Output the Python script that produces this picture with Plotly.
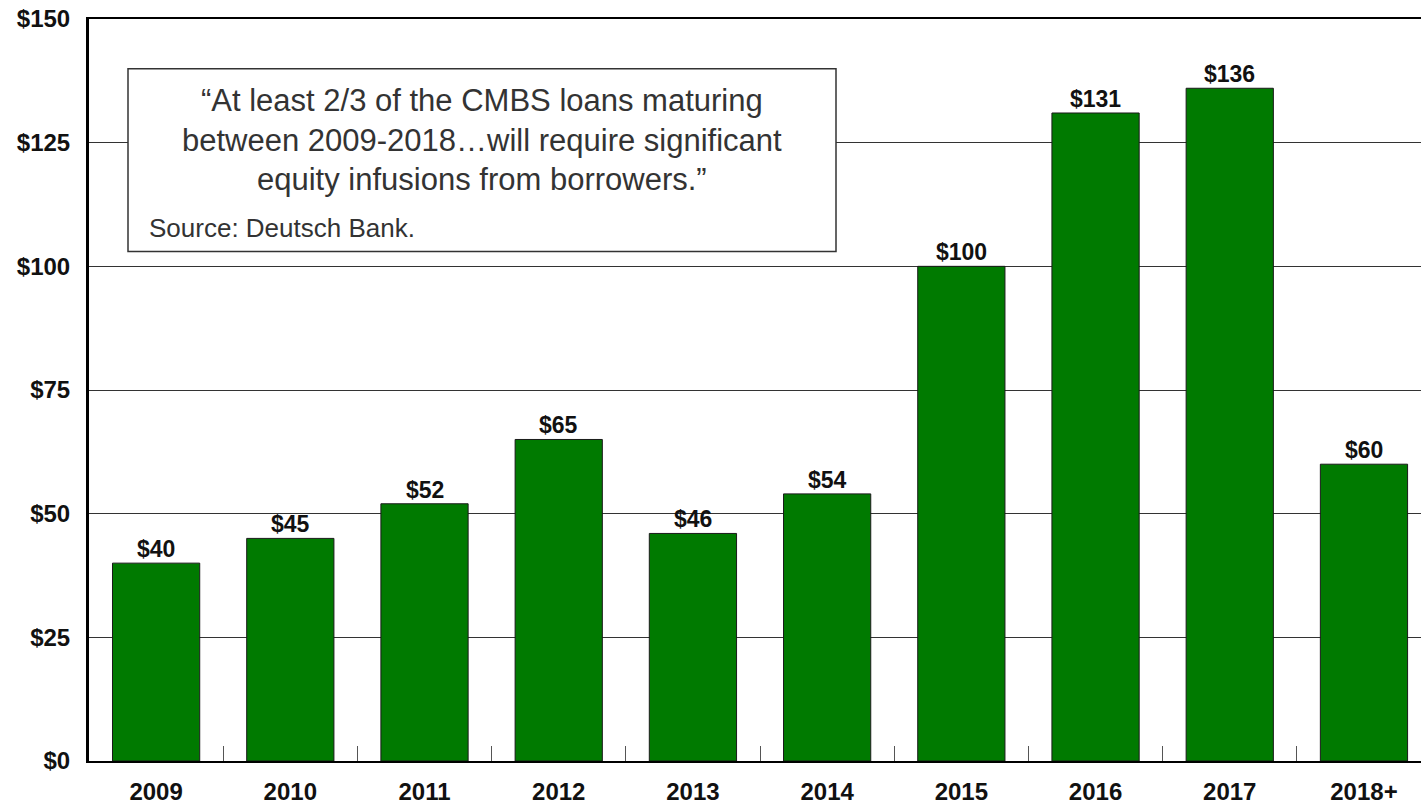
import plotly.graph_objects as go

# CMBS loan maturities by year ($ billions)
years = ["2009", "2010", "2011", "2012", "2013", "2014", "2015", "2016", "2017", "2018+"]
maturities = [40, 45, 52, 65, 46, 54, 100, 131, 136, 60]

y_ticks = [0, 25, 50, 75, 100, 125, 150]
y_tick_labels = ["$0", "$25", "$50", "$75", "$100", "$125", "$150"]

quote_lines = [
    "\u201cAt least 2/3 of the CMBS loans maturing",
    "between 2009-2018\u2026will require significant",
    "equity infusions from borrowers.\u201d",
]
source_text = "Source: Deutsch Bank."

W, H = 1421, 805
ML, MR, MT, MB = 89, 0, 19, 39
plot_w = W - ML - MR
plot_h = H - MT - MB


def px_x(px):
    return (px - ML) / plot_w


def px_y(py):
    return (H - MB - py) / plot_h


fig = go.Figure()
fig.add_trace(go.Bar(
    x=years,
    y=maturities,
    width=0.65,
    marker=dict(color="#007A00", line=dict(color="#1a1a1a", width=1)),
    hoverinfo="skip",
))

# Value labels sitting on top of each bar (category index positions)
for i, v in enumerate(maturities):
    fig.add_annotation(
        x=i, y=v, xref="x", yref="y",
        text=f"${v}", showarrow=False, xanchor="center", yanchor="bottom",
        yshift=-1,
        font=dict(family="Liberation Sans, Arial", size=23, color="#111111", weight="bold"),
    )

fig.update_layout(
    width=W,
    height=H,
    margin=dict(l=ML, r=MR, t=MT, b=MB),
    paper_bgcolor="white",
    plot_bgcolor="white",
    showlegend=False,
    font=dict(family="Liberation Sans, Arial", color="#111111"),
    xaxis=dict(
        type="category",
        range=[-0.5, 9.425],
        tickson="boundaries",
        ticks="inside",
        ticklen=15,
        tickwidth=1,
        tickcolor="#555555",
        showgrid=False,
        showline=True,
        linecolor="#000000",
        linewidth=2,
        mirror=True,
        tickfont=dict(size=24, weight="bold", color="#111111"),
        ticklabelstandoff=8,
        fixedrange=True,
    ),
    yaxis=dict(
        range=[0, 150],
        tickvals=y_ticks,
        ticktext=y_tick_labels,
        showgrid=True,
        gridcolor="#333333",
        gridwidth=1,
        showline=True,
        linecolor="#000000",
        linewidth=3,
        ticks="",
        zeroline=False,
        tickfont=dict(size=24, weight="bold", color="#111111"),
        ticklabelstandoff=11,
        fixedrange=True,
    ),
)

# Quote box
fig.add_shape(
    type="rect", xref="paper", yref="paper",
    x0=px_x(128), x1=px_x(836), y0=px_y(253), y1=px_y(69),
    fillcolor="white", line=dict(color="#333333", width=1.5), layer="above",
)

for line, cy in zip(quote_lines, [101, 141, 181]):
    fig.add_annotation(
        xref="paper", yref="paper", x=px_x(482), y=px_y(cy),
        text=line, showarrow=False, xanchor="center", yanchor="middle",
        font=dict(family="Liberation Sans, Arial", size=31, color="#333333"),
    )

fig.add_annotation(
    xref="paper", yref="paper", x=px_x(147), y=px_y(229),
    text=source_text, showarrow=False, xanchor="left", yanchor="middle",
    font=dict(family="Liberation Sans, Arial", size=26, color="#333333"),
)

fig.write_html("out.html")
